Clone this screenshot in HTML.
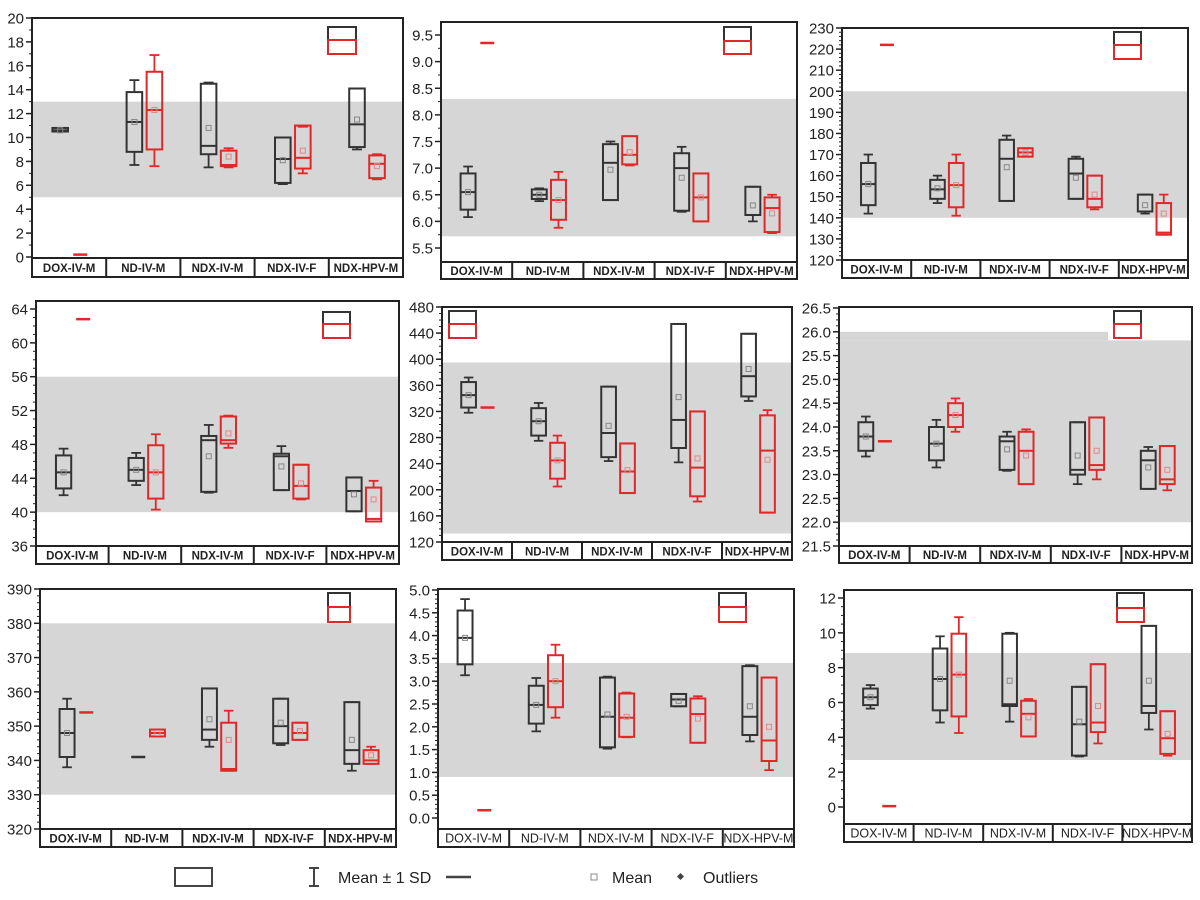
<!DOCTYPE html>
<html><head><meta charset="utf-8"><style>
html,body{margin:0;padding:0;background:#fff;}
svg{display:block;font-family:"Liberation Sans",Arial,sans-serif;}
</style></head><body>
<svg id="s" width="1200" height="900" xmlns="http://www.w3.org/2000/svg"></svg>
<script>
const cats=["DOX-IV-M","ND-IV-M","NDX-IV-M","NDX-IV-F","NDX-HPV-M"];
const P=[
{l:32,r:403,top:18,bot:258,lab:277,v0:20,p0:18,v1:0,p1:257,tmin:0,tmax:20,step:2,minor:2,dec:0,g:[13,5],leg:[328,356,27,40,54],bold:1,
 b:[[10.5,10.5,10.6,10.8,10.8,10.6],[7.7,8.8,11.3,13.8,14.8,11.3],[7.5,8.6,9.3,14.5,14.6,10.8],[6.1,6.2,8.2,10,10,8.1],[9,9.2,11.1,14.1,14.1,11.5]],
 rd:[[0.2,0.2,0.2,0.2,0.2,0.2],[7.6,9,12.3,15.5,16.9,12.3],[7.5,7.6,7.7,8.9,9.1,8.4],[7,7.4,8.3,11,10.9,8.9],[6.5,6.6,7.8,8.5,8.6,7.6]]},
{l:441,r:797,top:22,bot:262,lab:279,v0:9.5,p0:35,v1:5.5,p1:248,tmin:5.5,tmax:9.5,step:0.5,minor:2,dec:1,g:[8.3,5.72],leg:[724,751,27,41,54],bold:1,
 b:[[6.08,6.22,6.55,6.9,7.03,6.55],[6.38,6.42,6.5,6.6,6.62,6.5],[6.4,6.4,7.1,7.45,7.5,6.97],[6.18,6.2,7,7.28,7.4,6.82],[6,6.12,6.12,6.65,6.65,6.3]],
 rd:[[9.35,9.35,9.35,9.35,9.35,9.35],[5.88,6.03,6.4,6.78,6.93,6.4],[7.05,7.07,7.25,7.6,7.6,7.3],[6,6,6.45,6.9,6.9,6.45],[5.78,5.8,6.25,6.45,6.5,6.15]]},
{l:842,r:1188,top:28,bot:260,lab:278,v0:230,p0:28,v1:120,p1:260,tmin:120,tmax:230,step:10,minor:5,dec:0,g:[200,140],leg:[1114,1141,32,45,59],bold:1,
 b:[[142,146,156,166,170,156],[147,149,153.5,158,160,154],[148,148,168,177,179,164],[149,149,161,168,169,159],[142,143,143,151,151,146]],
 rd:[[222,222,222,222,222,222],[141,145,155.5,166,170,155.5],[169,169,171,173,173,171],[144,145,149,160,160,151],[132,132,133,147,151,142]]},
{l:36,r:399,top:301,bot:546,lab:564,v0:64,p0:309,v1:36,p1:546,tmin:36,tmax:64,step:4,minor:4,dec:0,g:[56,40],leg:[323,350,312,324,338],bold:1,
 b:[[42,42.8,44.7,46.7,47.5,44.7],[43.2,43.7,45,46.4,47,45],[42.3,42.4,48.5,49,50.3,46.6],[42.6,42.6,46.6,46.9,47.8,45.4],[40.1,40.1,42.5,44.1,44.1,42.1]],
 rd:[[62.8,62.8,62.8,62.8,62.8,62.8],[40.3,41.6,44.7,47.9,49.2,44.7],[47.6,48.1,48.5,51.3,51.4,49.3],[41.5,41.6,43.1,45.6,45.6,43.4],[38.9,38.9,39.2,42.9,43.7,41.5]]},
{l:442,r:792,top:307,bot:542,lab:560,v0:480,p0:307,v1:120,p1:542,tmin:120,tmax:480,step:40,minor:4,dec:0,g:[395,133],leg:[449,476,311,324,338],bold:1,
 b:[[318,326,345,365,372,345],[275,283,305,325,333,305],[244,250,287,358,358,298],[242,264,307,454,454,342],[336,343,374,439,439,385]],
 rd:[[326,326,326,326,326,326],[205,217,245,272,283,245],[195,195,228,271,271,230],[182,190,234,320,320,248],[165,165,260,314,322,246]]},
{l:839,r:1192,top:307,bot:546,lab:563,v0:26.5,p0:308,v1:21.5,p1:546,tmin:21.5,tmax:26.5,step:0.5,minor:4,dec:1,g:[25.82,22],leg:[1114,1141,311,324,338],bold:1,notch:[26,1108],
 b:[[23.38,23.5,23.8,24.1,24.22,23.8],[23.15,23.3,23.65,24,24.15,23.65],[23.08,23.1,23.7,23.8,23.9,23.53],[22.8,23,23.1,24.1,24.1,23.4],[22.7,22.7,23.3,23.5,23.58,23.15]],
 rd:[[23.7,23.7,23.7,23.7,23.7,23.7],[23.9,24,24.25,24.5,24.6,24.25],[22.8,22.8,23.5,23.9,23.95,23.4],[22.9,23.1,23.2,24.2,24.2,23.5],[22.67,22.8,22.9,23.6,23.6,23.1]]},
{l:40,r:396,top:589,bot:829,lab:847,v0:390,p0:589,v1:320,p1:829,tmin:320,tmax:390,step:10,minor:5,dec:0,g:[380,330],leg:[328,350,593,607,622],bold:1,
 b:[[338,341,348,355,358,348],[341,341,341,341,341,341],[344,346,349,361,361,352],[344.5,345,350,358,358,351],[337,339,343,357,357,346]],
 rd:[[354,354,354,354,354,354],[347,347,348,349,349,348],[337,337,337.5,351,354.5,346],[346,346,348,351,351,348.5],[339,339,340,343,344,341.5]]},
{l:438,r:794,top:589,bot:829,lab:847,v0:5,p0:590,v1:0,p1:818,tmin:0,tmax:5,step:0.5,minor:5,dec:1,g:[3.4,0.9],leg:[719,746,593,607,622],bold:0,
 b:[[3.13,3.37,3.95,4.55,4.8,3.95],[1.9,2.07,2.48,2.9,3.07,2.48],[1.52,1.55,2.22,3.08,3.1,2.27],[2.45,2.45,2.6,2.72,2.72,2.57],[1.68,1.82,2.22,3.33,3.35,2.45]],
 rd:[[0.17,0.17,0.17,0.17,0.17,0.17],[2.2,2.43,3,3.57,3.8,3],[1.77,1.78,2.2,2.73,2.75,2.22],[1.65,1.65,2.28,2.62,2.67,2.18],[1.05,1.25,1.7,3.08,3.08,2]]},
{l:844,r:1192,top:590,bot:824,lab:842,v0:12,p0:598,v1:0,p1:807,tmin:0,tmax:12,step:2,minor:4,dec:0,g:[8.85,2.7],leg:[1117,1144,593,608,622],bold:0,
 b:[[5.65,5.85,6.3,6.8,7,6.3],[4.85,5.55,7.35,9.1,9.8,7.35],[4.9,5.8,5.9,9.95,10,7.25],[2.9,2.95,4.75,6.9,6.9,4.9],[4.45,5.4,5.8,10.4,10.4,7.25]],
 rd:[[0.05,0.05,0.05,0.05,0.05,0.05],[4.25,5.2,7.6,9.95,10.9,7.6],[4.05,4.05,5.35,6.1,6.2,5.15],[3.65,4.3,4.85,8.2,8.2,5.8],[2.95,3.05,3.95,5.5,5.5,4.2]]}
];
let o='';
const K='#333',R='#e02828';
for(const p of P){
 const Y=v=>p.p0+(v-p.v0)*(p.p1-p.p0)/(p.v1-p.v0);
 const W=p.r-p.l, cw=W/5;
 o+=`<rect x="${p.l}" y="${Y(p.g[0])}" width="${W}" height="${Y(p.g[1])-Y(p.g[0])}" fill="#d6d6d6"/>`;
 if(p.notch) o+=`<rect x="${p.l}" y="${Y(p.notch[0])}" width="${p.notch[1]-p.l}" height="${Y(p.g[0])-Y(p.notch[0])}" fill="#d6d6d6"/>`;
 const n=Math.round((p.tmax-p.tmin)/p.step);
 for(let i=0;i<=n;i++){const v=p.tmin+i*p.step,y=Y(v);
  o+=`<line x1="${p.l-6}" x2="${p.l}" y1="${y}" y2="${y}" stroke="#222" stroke-width="1.5"/>`;
  o+=`<text x="${p.l-8}" y="${y+5.5}" text-anchor="end" font-size="15" fill="#222">${v.toFixed(p.dec)}</text>`;
  if(i<n) for(let m=1;m<p.minor;m++){const ym=Y(v+p.step*m/p.minor);o+=`<line x1="${p.l-3}" x2="${p.l}" y1="${ym}" y2="${ym}" stroke="#222" stroke-width="1"/>`;}
 }
 const draw=(d,c,off,col,mc)=>{
  const cx=p.l+cw*(c+0.5)+cw*off, bw=cw*0.21, x=cx-bw/2;
  const [wl,q1,md,q3,wh,mn]=d;
  if(q3-q1<0.001*(p.tmax-p.tmin)||Y(q1)-Y(q3)<2){
   o+=`<line x1="${cx-7}" x2="${cx+7}" y1="${Y(md)}" y2="${Y(md)}" stroke="${col}" stroke-width="2.5"/>`;return;}
  const cap=bw*0.32;
  o+=`<line x1="${cx}" x2="${cx}" y1="${Y(wh)}" y2="${Y(q3)}" stroke="${col}" stroke-width="1.8"/>`;
  o+=`<line x1="${cx}" x2="${cx}" y1="${Y(q1)}" y2="${Y(wl)}" stroke="${col}" stroke-width="1.8"/>`;
  o+=`<line x1="${cx-cap}" x2="${cx+cap}" y1="${Y(wh)}" y2="${Y(wh)}" stroke="${col}" stroke-width="1.8"/>`;
  o+=`<line x1="${cx-cap}" x2="${cx+cap}" y1="${Y(wl)}" y2="${Y(wl)}" stroke="${col}" stroke-width="1.8"/>`;
  o+=`<rect x="${x}" y="${Y(q3)}" width="${bw}" height="${Y(q1)-Y(q3)}" fill="none" stroke="${col}" stroke-width="2"/>`;
  o+=`<line x1="${x}" x2="${x+bw}" y1="${Y(md)}" y2="${Y(md)}" stroke="${col}" stroke-width="2"/>`;
  o+=`<rect x="${cx-2.5}" y="${Y(mn)-2.5}" width="5" height="5" fill="none" stroke="${mc}" stroke-width="1"/>`;
 };
 for(let c=0;c<5;c++){draw(p.b[c],c,-0.12,K,'#888');draw(p.rd[c],c,0.15,R,'#e08888');}
 const L=p.leg;
 o+=`<rect x="${L[0]}" y="${L[2]}" width="${L[1]-L[0]}" height="${L[3]-L[2]}" fill="#fff" stroke="${K}" stroke-width="2"/>`;
 o+=`<rect x="${L[0]}" y="${L[3]}" width="${L[1]-L[0]}" height="${L[4]-L[3]}" fill="#fff" stroke="${R}" stroke-width="2"/>`;
 o+=`<rect x="${p.l}" y="${p.top}" width="${W}" height="${p.lab-p.top}" fill="none" stroke="#222" stroke-width="2"/>`;
 o+=`<line x1="${p.l}" x2="${p.r}" y1="${p.bot}" y2="${p.bot}" stroke="#222" stroke-width="2"/>`;
 for(let c=0;c<5;c++){
  if(c>0)o+=`<line x1="${p.l+cw*c}" x2="${p.l+cw*c}" y1="${p.bot}" y2="${p.lab}" stroke="#222" stroke-width="2"/>`;
  o+=`<text x="${p.l+cw*(c+0.5)}" y="${(p.bot+p.lab)/2+4.5}" text-anchor="middle" font-size="${p.bold?11.5:12.5}" font-weight="${p.bold?'bold':'normal'}" fill="#222">${cats[c]}</text>`;
 }
}
o+=`<rect x="175" y="868" width="37" height="18" fill="none" stroke="#444" stroke-width="2"/>`;
o+=`<line x1="314" x2="314" y1="868" y2="886" stroke="#444" stroke-width="2"/><line x1="309" x2="319" y1="868" y2="868" stroke="#444" stroke-width="2"/><line x1="309" x2="319" y1="886" y2="886" stroke="#444" stroke-width="2"/>`;
o+=`<text x="338" y="883" font-size="16" fill="#222">Mean ± 1 SD</text>`;
o+=`<line x1="446" x2="471" y1="877" y2="877" stroke="#444" stroke-width="2.5"/>`;
o+=`<rect x="591" y="874" width="6" height="6" fill="none" stroke="#888" stroke-width="1"/>`;
o+=`<text x="612" y="883" font-size="16" fill="#222">Mean</text>`;
o+=`<rect x="678" y="874" width="5" height="5" fill="#444" transform="rotate(45 680.5 876.5)"/>`;
o+=`<text x="703" y="883" font-size="16" fill="#222">Outliers</text>`;
document.getElementById('s').innerHTML=o;
</script>
</body></html>
